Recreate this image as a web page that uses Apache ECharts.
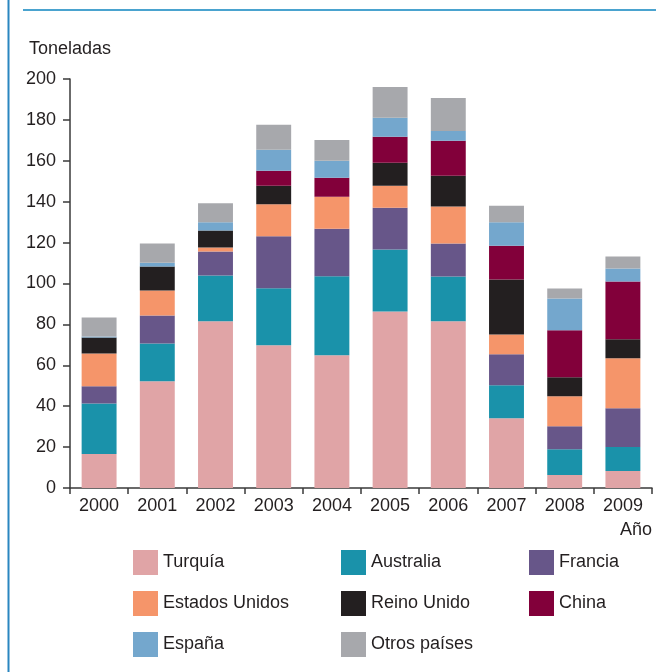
<!DOCTYPE html>
<html>
<head>
<meta charset="utf-8">
<script src="https://cdn.jsdelivr.net/npm/echarts@6/dist/echarts.min.js"></script>
<style>
html,body{margin:0;padding:0;background:#fff;}
#c{width:659px;height:672px;}
</style>
</head>
<body>
<div id="c"></div>
<script>
const years = ['2000','2001','2002','2003','2004','2005','2006','2007','2008','2009'];
const turquia      = [16.6, 52.2, 81.5, 69.8, 64.9, 86.3, 81.5, 34.1, 6.3, 8.3];
const australia    = [24.7, 18.5, 22.4, 27.9, 38.7, 30.3, 21.9, 16.1, 12.7, 11.7];
const francia      = [8.5, 13.7, 11.7, 25.4, 23.2, 20.5, 16.1, 15.2, 11.2, 19.0];
const estadosUnidos= [16.0, 12.2, 2.0, 15.6, 15.6, 10.7, 18.1, 9.7, 14.7, 24.4];
const reinoUnido   = [7.8, 11.7, 8.3, 9.1, 0, 11.2, 15.1, 26.9, 9.2, 9.3];
const china        = [0, 0, 0, 7.3, 9.3, 12.7, 17.1, 16.5, 23.0, 28.3];
const espana       = [0.5, 1.9, 4.0, 10.3, 8.3, 9.3, 4.8, 11.4, 15.6, 6.3];
const otros        = [9.3, 9.3, 9.3, 12.2, 10.2, 15.1, 16.1, 8.1, 4.9, 5.9];
const yTicks = { min: 0, max: 200, interval: 20 };

const FONT = "'Liberation Sans', Arial, sans-serif";
const FS = 18;
const TXT = '#231f20';
const seriesDefs = [
  ['Turquía', turquia, '#e0a4a6'],
  ['Australia', australia, '#1a92aa'],
  ['Francia', francia, '#675689'],
  ['Estados Unidos', estadosUnidos, '#f5956a'],
  ['Reino Unido', reinoUnido, '#231f20'],
  ['China', china, '#82003a'],
  ['España', espana, '#74a7cd'],
  ['Otros países', otros, '#a7a8ac']
];

const legendCommon = {
  orient: 'vertical', top: 545, itemWidth: 25, itemHeight: 25, itemGap: 16,
  icon: 'rect',
  textStyle: { fontFamily: FONT, fontSize: FS, color: TXT }
};

const chart = echarts.init(document.getElementById('c'), null, {renderer: 'canvas'});
chart.setOption({
  animation: false,
  backgroundColor: '#fff',
  grid: { left: 70, right: 7, top: 79, bottom: 184 },
  xAxis: {
    type: 'category', data: years,
    axisLine: { lineStyle: { color: '#3a3a3a', width: 1.5 } },
    axisTick: { show: true, length: 6, inside: false, alignWithLabel: false, lineStyle: { color: '#3a3a3a', width: 1.5 } },
    axisLabel: { fontFamily: FONT, fontSize: FS, color: TXT, margin: 9, interval: 0 }
  },
  yAxis: {
    type: 'value', min: yTicks.min, max: yTicks.max, interval: yTicks.interval,
    axisLine: { show: true, lineStyle: { color: '#3a3a3a', width: 1.5 } },
    axisTick: { show: true, length: 7, lineStyle: { color: '#3a3a3a', width: 1.5 } },
    splitLine: { show: false },
    axisLabel: { fontFamily: FONT, fontSize: FS, color: TXT, margin: 14 }
  },
  legend: [
    Object.assign({ left: 128, data: ['Turquía','Estados Unidos','España'] }, legendCommon),
    Object.assign({ left: 336, data: ['Australia','Reino Unido','Otros países'] }, legendCommon),
    Object.assign({ left: 524, data: ['Francia','China'] }, legendCommon)
  ],
  series: seriesDefs.map(([name, data, color]) => ({
    name, type: 'bar', stack: 'total', data, barWidth: '60%',
    itemStyle: { color }
  })),
  graphic: [
    { type: 'line', shape: { x1: 8.5, y1: 0, x2: 8.5, y2: 672 }, style: { stroke: '#2a86c0', lineWidth: 2 } },
    { type: 'line', shape: { x1: 23, y1: 10, x2: 656, y2: 10 }, style: { stroke: '#4aa3cf', lineWidth: 2 } },
    { type: 'text', left: 29, top: 40, style: { text: 'Toneladas', font: FS + 'px ' + FONT, fill: TXT } },
    { type: 'text', right: 7, top: 521, style: { text: 'Año', font: FS + 'px ' + FONT, fill: TXT } }
  ]
});
</script>
</body>
</html>
